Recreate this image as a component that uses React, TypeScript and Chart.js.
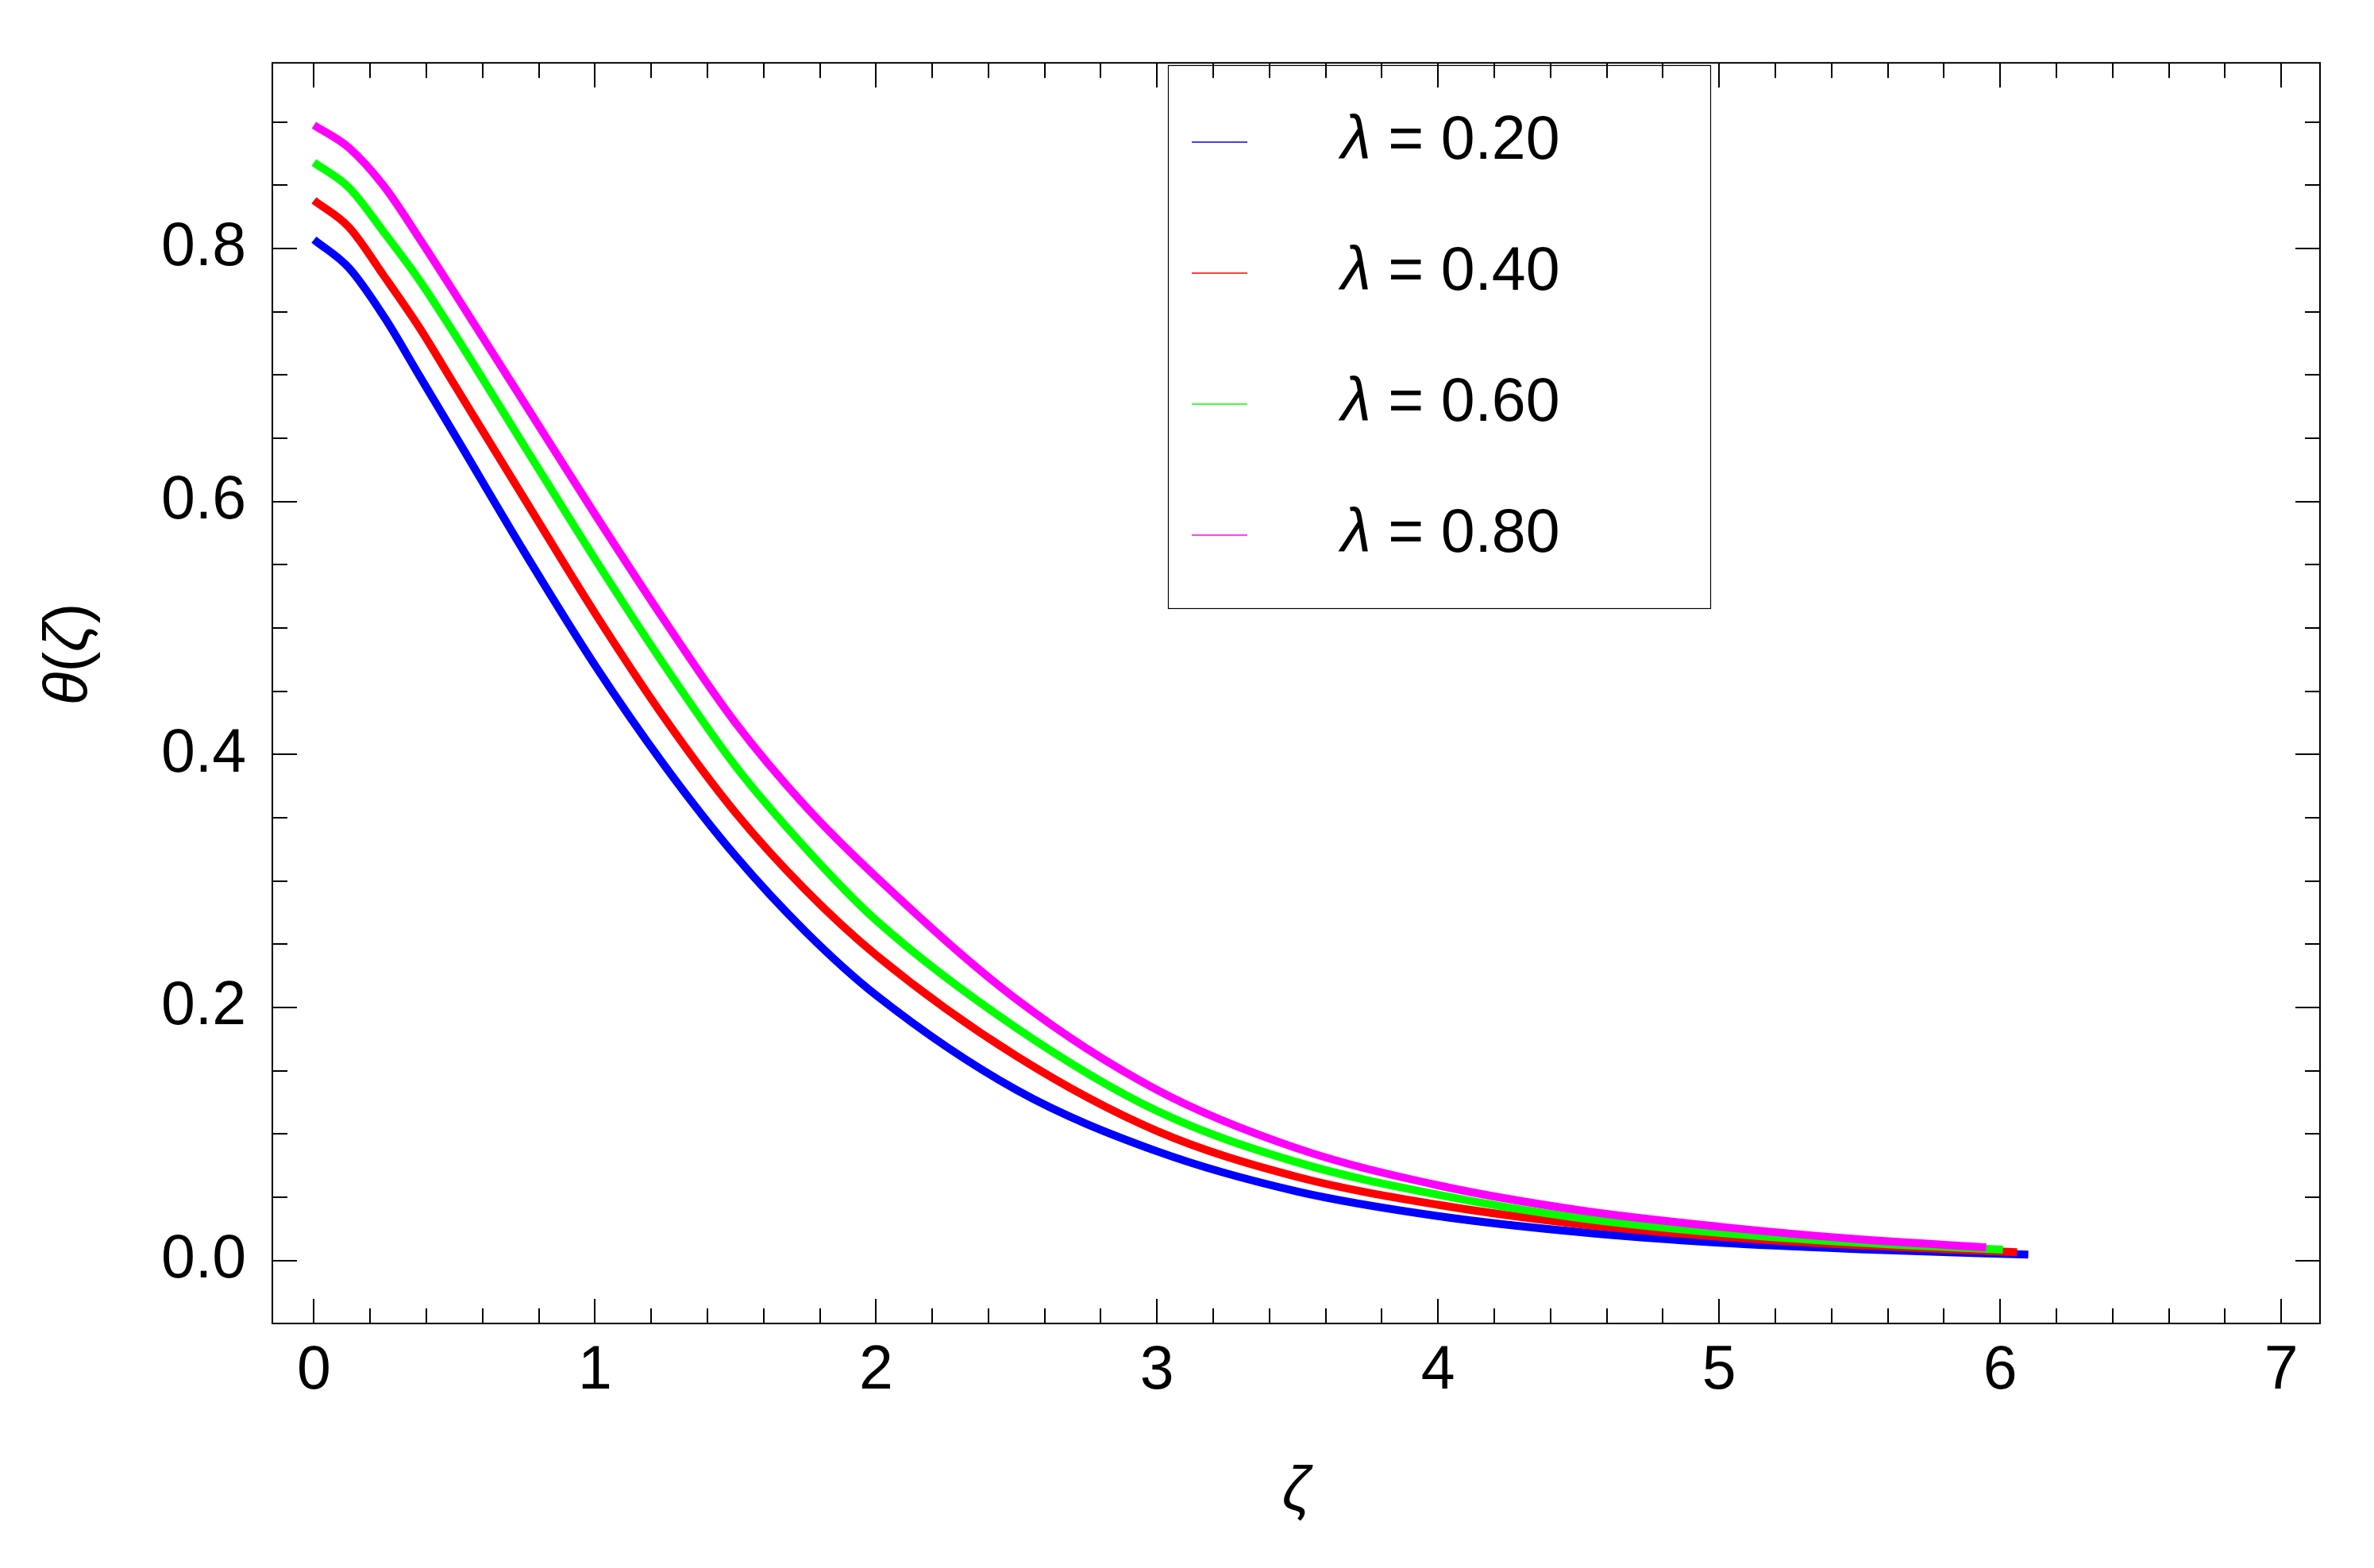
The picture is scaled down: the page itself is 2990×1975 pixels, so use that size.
import React, { useEffect, useRef } from "react";
import Chart from "chart.js/auto";

// ---- data ----
const ZETA = [0, 0.125, 0.25, 0.375, 0.5, 0.75, 1.0, 1.25, 1.5, 1.75, 2.0, 2.5, 3.0, 3.5, 4.0, 4.5, 5.0, 5.5];
const END_ZETA = [6.1, 6.06, 6.01, 5.95];
const LAMBDA_VALUES = ["0.20", "0.40", "0.60", "0.80"];
const THETA_L020 = [0.807, 0.7845, 0.7458, 0.6995, 0.653, 0.5595, 0.4705, 0.3905, 0.3198, 0.2598, 0.2098, 0.1348, 0.0863, 0.0545, 0.0351, 0.0225, 0.014, 0.0089, 0.0046];
const THETA_L040 = [0.838, 0.8167, 0.778, 0.7375, 0.6922, 0.6017, 0.5117, 0.428, 0.354, 0.2927, 0.2415, 0.1615, 0.1023, 0.066, 0.044, 0.0288, 0.0188, 0.012, 0.0066];
const THETA_L060 = [0.868, 0.848, 0.8125, 0.775, 0.7325, 0.6433, 0.5545, 0.4695, 0.3908, 0.3258, 0.269, 0.1838, 0.1182, 0.0775, 0.052, 0.0337, 0.0219, 0.014, 0.0085];
const THETA_L080 = [0.8975, 0.8795, 0.849, 0.808, 0.7649, 0.6774, 0.5899, 0.505, 0.425, 0.3588, 0.3033, 0.2064, 0.1348, 0.0885, 0.0594, 0.0398, 0.0267, 0.0167, 0.0104];
const SERIES = [THETA_L020, THETA_L040, THETA_L060, THETA_L080];
const SERIES_COLORS = ["#0000ff", "#ff0000", "#00ff00", "#ff00ff"];
const X_TICKS = [0, 1, 2, 3, 4, 5, 6, 7];
const Y_TICKS = [0, 0.2, 0.4, 0.6, 0.8];
const X_RANGE = [-0.148, 7.138];
const Y_RANGE = [-0.0498, 0.9467];

const FONT = "'Liberation Sans', Arial, sans-serif";
const FS = 77;

const decorPlugin = {
  id: "decor",
  afterDraw(chart: any) {
    const { ctx, chartArea: a, scales } = chart;
    const xs = scales.x;
    const ys = scales.y;
    ctx.save();
    // frame
    ctx.strokeStyle = "#000";
    ctx.lineWidth = 2;
    ctx.strokeRect(a.left, a.top, a.right - a.left, a.bottom - a.top);
    // inner ticks on all four sides
    const MAJ = 31;
    const MIN = 19;
    ctx.beginPath();
    for (let i = Math.ceil(xs.min / 0.2 - 1e-6); i <= Math.floor(xs.max / 0.2 + 1e-6); i++) {
      const px = Math.round(xs.getPixelForValue(i * 0.2));
      const len = i % 5 === 0 ? MAJ : MIN;
      ctx.moveTo(px, a.bottom);
      ctx.lineTo(px, a.bottom - len);
      ctx.moveTo(px, a.top);
      ctx.lineTo(px, a.top + len);
    }
    for (let i = Math.ceil(ys.min / 0.05 - 1e-6); i <= Math.floor(ys.max / 0.05 + 1e-6); i++) {
      const py = Math.round(ys.getPixelForValue(i * 0.05));
      const len = i % 4 === 0 ? MAJ : MIN;
      ctx.moveTo(a.left, py);
      ctx.lineTo(a.left + len, py);
      ctx.moveTo(a.right, py);
      ctx.lineTo(a.right - len, py);
    }
    ctx.stroke();

    // legend
    const lx = 1471, ly = 82, lw = 683, lh = 684;
    ctx.lineWidth = 1.2;
    ctx.strokeRect(lx + 0.5, ly + 0.5, lw, lh);
    chart.data.datasets.forEach((ds: any, i: number) => {
      const rowLine = 179 + i * 165;
      const base = 200 + i * 165;
      ctx.strokeStyle = ds.borderColor;
      ctx.lineWidth = 1.5;
      ctx.beginPath();
      ctx.moveTo(1501, rowLine);
      ctx.lineTo(1571, rowLine);
      ctx.stroke();
      ctx.fillStyle = "#000";
      ctx.textBaseline = "alphabetic";
      ctx.textAlign = "left";
      ctx.font = `italic ${FS}px ${FONT}`;
      ctx.fillText("λ", 1689, base);
      const w = ctx.measureText("λ").width;
      ctx.font = `${FS}px ${FONT}`;
      ctx.fillText(" = " + ds.label, 1689 + w, base);
    });

    // x title
    ctx.fillStyle = "#000";
    ctx.font = `italic ${FS}px ${FONT}`;
    ctx.textAlign = "center";
    ctx.textBaseline = "alphabetic";
    ctx.fillText("ζ", (a.left + a.right) / 2, 1902);

    // y title (rotated)
    const parts: [string, string][] = [["θ", "italic"], ["(", "normal"], ["ζ", "italic"], [")", "normal"]];
    let total = 0;
    const widths = parts.map(([t, s]) => {
      ctx.font = `${s} ${FS}px ${FONT}`;
      const w = ctx.measureText(t).width;
      total += w;
      return w;
    });
    ctx.translate(110, 824);
    ctx.rotate(-Math.PI / 2);
    ctx.textAlign = "left";
    let cx = -total / 2;
    parts.forEach(([t, s], k) => {
      ctx.font = `${s} ${FS}px ${FONT}`;
      ctx.fillText(t, cx, 0);
      cx += widths[k];
    });
    ctx.restore();
  },
};

export default function App() {
  const ref = useRef<HTMLCanvasElement | null>(null);
  useEffect(() => {
    document.body.style.margin = "0";
    const canvas = ref.current;
    if (!canvas) return;
    const datasets = SERIES.map((vals, i) => ({
      label: LAMBDA_VALUES[i],
      data: [...ZETA, END_ZETA[i]].map((z, k) => ({ x: z, y: vals[k] })),
      borderColor: SERIES_COLORS[i],
      backgroundColor: SERIES_COLORS[i],
      borderWidth: 10,
      pointRadius: 0,
      fill: false,
      cubicInterpolationMode: "monotone" as const,
      order: SERIES.length - i,
    }));
    const chart = new Chart(canvas, {
      type: "line",
      data: { datasets },
      plugins: [decorPlugin],
      options: {
        animation: false,
        responsive: false,
        devicePixelRatio: 1,
        layout: { padding: { left: 0, right: 68, top: 72, bottom: 0 } },
        plugins: { legend: { display: false }, tooltip: { enabled: false } },
        scales: {
          x: {
            type: "linear",
            min: X_RANGE[0],
            max: X_RANGE[1],
            afterBuildTicks: (s: any) => {
              s.ticks = X_TICKS.map((v) => ({ value: v }));
            },
            afterFit: (s: any) => {
              s.height = 308;
            },
            grid: { display: false, drawTicks: false },
            border: { display: false },
            ticks: {
              font: { family: FONT, size: FS },
              color: "#000",
              padding: 15,
              maxRotation: 0,
              autoSkip: false,
              callback: (v: any) => String(Math.round(Number(v))),
            },
          },
          y: {
            type: "linear",
            min: Y_RANGE[0],
            max: Y_RANGE[1],
            afterBuildTicks: (s: any) => {
              s.ticks = Y_TICKS.map((v) => ({ value: v }));
            },
            afterFit: (s: any) => {
              s.width = 343;
            },
            grid: { display: false, drawTicks: false },
            border: { display: false },
            ticks: {
              font: { family: FONT, size: FS },
              color: "#000",
              padding: 33,
              autoSkip: false,
              callback: (v: any) => Number(v).toFixed(1),
            },
          },
        },
      },
    });
    return () => chart.destroy();
  }, []);
  return (
    <div style={{ position: "absolute", left: 0, top: 0, width: 2990, height: 1975, background: "#fff" }}>
      <canvas ref={ref} width={2990} height={1975} style={{ width: 2990, height: 1975, display: "block" }} />
    </div>
  );
}
